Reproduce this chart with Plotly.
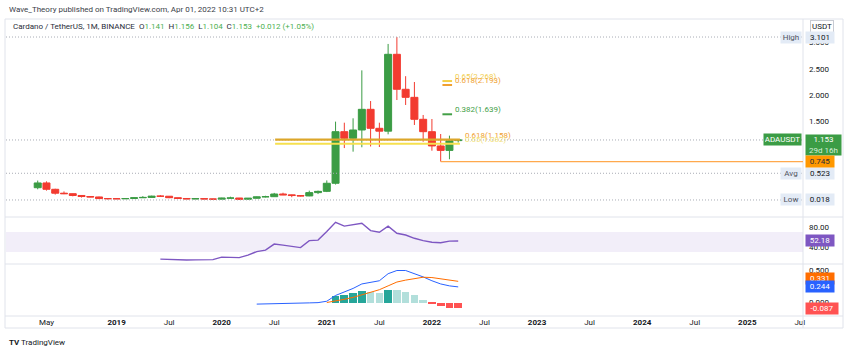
import plotly.graph_objects as go

# ---------------- data ----------------
tick_idx = [1, 9, 15, 21, 27, 33, 39, 45, 51, 57, 63, 69, 75, 81, 87]
tick_text = ["May", "<b>2019</b>", "Jul", "<b>2020</b>", "Jul", "<b>2021</b>", "Jul",
             "<b>2022</b>", "Jul", "<b>2023</b>", "Jul", "<b>2024</b>", "Jul", "<b>2025</b>", "Jul"]

# monthly candles, index 0 = Apr 2018 ... 48 = Apr 2022
opens = [0.250, 0.340, 0.220, 0.146, 0.137, 0.103, 0.083, 0.075, 0.044, 0.042, 0.040, 0.045,
         0.060, 0.066, 0.090, 0.089, 0.061, 0.046, 0.038, 0.042, 0.037, 0.033, 0.052, 0.055,
         0.031, 0.050, 0.077, 0.080, 0.131, 0.115, 0.102, 0.094, 0.157, 0.181, 0.334, 1.310,
         1.185, 1.342, 1.733, 1.374, 1.320, 2.774, 2.112, 1.960, 1.544, 1.310, 1.040, 0.956, 1.141]
closes = [0.340, 0.220, 0.146, 0.137, 0.103, 0.083, 0.075, 0.044, 0.042, 0.040, 0.045, 0.060,
          0.066, 0.090, 0.089, 0.061, 0.046, 0.038, 0.042, 0.037, 0.033, 0.052, 0.055, 0.031,
          0.050, 0.077, 0.080, 0.131, 0.115, 0.102, 0.094, 0.157, 0.181, 0.334, 1.310, 1.185,
          1.342, 1.733, 1.374, 1.320, 2.774, 2.112, 1.960, 1.544, 1.310, 1.040, 0.956, 1.141, 1.153]
highs = [0.385, 0.370, 0.230, 0.180, 0.140, 0.105, 0.088, 0.081, 0.050, 0.051, 0.050, 0.065,
         0.091, 0.099, 0.110, 0.092, 0.062, 0.052, 0.047, 0.050, 0.040, 0.060, 0.080, 0.057,
         0.055, 0.083, 0.098, 0.152, 0.155, 0.120, 0.110, 0.194, 0.195, 0.388, 1.500, 1.480,
         1.563, 2.470, 1.890, 1.480, 2.970, 3.101, 2.360, 2.250, 1.626, 1.550, 1.266, 1.235, 1.156]
lows = [0.220, 0.195, 0.120, 0.128, 0.087, 0.064, 0.071, 0.035, 0.027, 0.037, 0.036, 0.044,
        0.058, 0.058, 0.078, 0.052, 0.038, 0.034, 0.035, 0.033, 0.031, 0.032, 0.049, 0.018,
        0.030, 0.045, 0.066, 0.076, 0.110, 0.070, 0.086, 0.089, 0.130, 0.167, 0.310, 1.000,
        0.932, 1.015, 1.030, 1.020, 1.260, 1.909, 1.815, 1.437, 1.120, 0.950, 0.745, 0.788, 1.104]

rsi_start = 14
rsi = [16, 15, 14, 14.3, 14.5, 14.7, 15, 20, 19.5, 19, 24, 31, 34, 46, 44, 41, 39, 53, 54, 71,
       89.6, 82, 84.5, 87.6, 73, 69.6, 82, 67.6, 64.2, 57.6, 52.8, 49.6, 48.8, 52, 52.18]

macd_start = 25
macd = [-0.025, -0.02, -0.018, -0.015, -0.012, -0.01, -0.006, -0.002, 0.02, 0.11, 0.16, 0.22,
        0.29, 0.32, 0.34, 0.45, 0.50, 0.50, 0.455, 0.40, 0.34, 0.29, 0.26, 0.244]
signal_start = 33
signal = [0.0, 0.02, 0.05, 0.08, 0.12, 0.16, 0.20, 0.26, 0.32, 0.35, 0.375, 0.395, 0.39, 0.37,
          0.35, 0.331]
hist_start = 34
hist = [0.099, 0.125, 0.15, 0.177, 0.167, 0.146, 0.203, 0.188, 0.161, 0.115, 0.047, -0.02,
        -0.057, -0.083, -0.087]

# stat lines on price pane
stat_names = ["High", "Avg", "Low"]
stat_values = [3.101, 0.523, 0.018]
last_price = 1.153
support_level = 0.745
support_start = 46

# fib levels
fib_long_labels = ["0.618(1.158)", "0.65(1.082)"]
fib_long_values = [1.158, 1.082]
fib_long_span = [27.1, 48.2]
fib_short_labels = ["0.65(2.268)", "0.618(2.193)", "0.382(1.639)"]
fib_short_values = [2.268, 2.193, 1.639]
fib_short_span = [46.2, 47.3]

price_ticks = [1.5, 2.0, 2.5, 3.0]
rsi_ticks = [40, 80]
macd_ticks = [0.0, 0.5]

# ---------------- styling ----------------
GREEN = "#3b9c45"
RED = "#f23b30"
L, R, T, B = 6, 803, 20, 316


def px_x(p):
    return (p - L) / (R - L)


def px_y(p):
    return (B - p) / (B - T)


FONT = "Roboto, Arial, sans-serif"

x = list(range(len(opens)))
fig = go.Figure()
fig.add_trace(go.Candlestick(
    x=x, open=opens, high=highs, low=lows, close=closes,
    increasing=dict(line=dict(color=GREEN, width=1), fillcolor=GREEN),
    decreasing=dict(line=dict(color=RED, width=1), fillcolor=RED),
    whiskerwidth=0, xaxis="x", yaxis="y", hoverinfo="skip", showlegend=False))

fig.add_trace(go.Scatter(x=list(range(rsi_start, rsi_start + len(rsi))), y=rsi,
                         mode="lines", line=dict(color="#7e57c2", width=1.4),
                         xaxis="x", yaxis="y2", hoverinfo="skip"))

hist_colors = []
for i, v in enumerate(hist):
    prev = hist[i - 1] if i > 0 else 0
    if v >= 0:
        hist_colors.append("#26a69a" if v >= prev else "#b2dfdb")
    else:
        hist_colors.append("#ff5252" if v <= prev else "#ffcdd2")
fig.add_trace(go.Bar(x=list(range(hist_start, hist_start + len(hist))), y=hist,
                     marker=dict(color=hist_colors, line=dict(width=0)), width=0.88,
                     xaxis="x", yaxis="y3", hoverinfo="skip"))
fig.add_trace(go.Scatter(x=list(range(macd_start, macd_start + len(macd))), y=macd,
                         mode="lines", line=dict(color="#2962ff", width=1),
                         xaxis="x", yaxis="y3", hoverinfo="skip"))
fig.add_trace(go.Scatter(x=list(range(signal_start, signal_start + len(signal))), y=signal,
                         mode="lines", line=dict(color="#ff6d00", width=1),
                         xaxis="x", yaxis="y3", hoverinfo="skip"))

shapes = []
BORDER = "#e0e3eb"
shapes.append(dict(type="rect", xref="paper", yref="paper", x0=px_x(5), x1=px_x(843),
                   y0=px_y(328), y1=px_y(19), line=dict(color=BORDER, width=1)))
for yy in [217, 264, 316]:
    shapes.append(dict(type="line", xref="paper", yref="paper", x0=px_x(5), x1=px_x(843),
                       y0=px_y(yy), y1=px_y(yy), line=dict(color=BORDER, width=1)))
shapes.append(dict(type="line", xref="paper", yref="paper", x0=1, x1=1,
                   y0=px_y(328), y1=px_y(19), line=dict(color=BORDER, width=1)))
shapes.append(dict(type="rect", xref="paper", yref="y2", x0=0, x1=1, y0=30, y1=70,
                   fillcolor="rgba(126,87,194,0.10)", line=dict(width=0), layer="below"))
for v in stat_values + [last_price]:
    shapes.append(dict(type="line", xref="paper", yref="y", x0=0, x1=1, y0=v, y1=v,
                       line=dict(color="#a9acb5", width=1, dash="1px,2px")))
shapes.append(dict(type="line", xref="x", yref="y", x0=support_start, x1=87.36,
                   y0=support_level, y1=support_level, line=dict(color="#ffa94d", width=1.2)))
long_colors = ["#dca62a", "#f6e04e"]
for v, c in zip(fib_long_values, long_colors):
    shapes.append(dict(type="line", xref="x", yref="y", x0=fib_long_span[0], x1=fib_long_span[1],
                       y0=v, y1=v, line=dict(color=c, width=2.2)))
short_colors = ["#f4cf45", "#f0a030", "#43a047"]
for v, c in zip(fib_short_values, short_colors):
    shapes.append(dict(type="line", xref="x", yref="y", x0=fib_short_span[0], x1=fib_short_span[1],
                       y0=v, y1=v, line=dict(color=c, width=2)))

ann = []


def txt(text, x, y, xref="paper", yref="paper", xanchor="left", yanchor="middle",
        color="#131722", size=8, **kw):
    d = dict(text=text, x=x, y=y, xref=xref, yref=yref, xanchor=xanchor, yanchor=yanchor,
             showarrow=False, font=dict(family=FONT, size=size, color=color))
    d.update(kw)
    ann.append(d)


txt("Wave_Theory published on TradingView.com, Apr 01, 2022 10:31 UTC+2", px_x(7), px_y(9),
    color="#3a3e48", size=8)
g = "#4caf50"
legend = ("Cardano / TetherUS, 1M, BINANCE  O<span style='color:%s'>1.141</span>  "
          "H<span style='color:%s'>1.156</span>  L<span style='color:%s'>1.104</span>  "
          "C<span style='color:%s'>1.153</span>  <span style='color:%s'>+0.012 (+1.05%%)</span>"
          ) % (g, g, g, g, g)
txt(legend, px_x(11), px_y(26), color="#2a2e39", size=8)
txt("<b>TV</b> TradingView", px_x(7), px_y(342), color="#131722", size=8)

LIGHT = "#e3ebf6"
txt("USDT", px_x(822.5), px_y(26), xanchor="center", bgcolor="white", bordercolor="#c8cbd3",
    borderwidth=1, borderpad=1, size=8)
for name, v in zip(stat_names, stat_values):
    txt(name, px_x(802), v, yref="y", xanchor="right", bgcolor=LIGHT, color="#50535e",
        width=18, height=9, borderpad=1)
    txt("%.3f" % v, px_x(805), v, yref="y", bgcolor=LIGHT, color="#131722", width=26, height=9,
        borderpad=1)
txt("ADAUSDT", px_x(802), last_price, yref="y", xanchor="right", bgcolor=GREEN, color="white",
    width=35, height=9, borderpad=1)
txt("1.153<br><span style='color:#d7f0d9'>29d 16h</span>", px_x(805), last_price, yref="y",
    yanchor="top", yshift=5.5, bgcolor=GREEN, color="white", width=33, height=18, borderpad=1)
txt("%.3f" % support_level, px_x(805), support_level, yref="y", bgcolor="#ff9800",
    color="#2a2e39", width=26, height=9, borderpad=1)
txt("52.18", px_x(805), rsi[-1], yref="y2", bgcolor="#7e57c2", color="white", width=26,
    height=9, borderpad=1)
txt("%.3f" % signal[-1], px_x(805), signal[-1], yref="y3", yshift=3, bgcolor="#ff6d00",
    color="white", width=26, height=9, borderpad=1)
txt("%.3f" % macd[-1], px_x(805), macd[-1], yref="y3", bgcolor="#2962ff", color="white",
    width=26, height=9, borderpad=1)
txt("%.3f" % hist[-1], px_x(805), hist[-1], yref="y3", bgcolor="#ff5252", color="white",
    width=30, height=9, borderpad=1)

for lab, v, c in zip(fib_short_labels, fib_short_values, ["#f2cf52", "#f0a030", "#43a047"]):
    txt(lab, 47.44, v, xref="x", yref="y", color=c, yshift=5, size=8)
for lab, v, c in zip(fib_long_labels, fib_long_values, ["#f0a030", "#f3e27a"]):
    txt(lab, 48.5, v, xref="x", yref="y", color=c, yshift=4.5, size=8)

axis_font = dict(family=FONT, size=8, color="#131722")
fig.update_layout(
    width=850, height=352, margin=dict(l=L, r=850 - R, t=T, b=352 - B, pad=0),
    paper_bgcolor="white", plot_bgcolor="white", showlegend=False,
    boxgap=0.2, boxgroupgap=0, bargap=0,
    font=dict(family=FONT, size=8, color="#131722"),
    xaxis=dict(range=[-3.62, 87.36], anchor="y3", tickvals=tick_idx, ticktext=tick_text,
               showgrid=False, zeroline=False, showline=False, ticks="",
               rangeslider=dict(visible=False), tickfont=axis_font, fixedrange=True),
    yaxis=dict(domain=[0.3345, 1], range=[-0.304, 3.423], side="right", anchor="x",
               tickvals=price_ticks, ticktext=["%.3f" % v for v in price_ticks],
               showgrid=False, zeroline=False, showline=False, ticks="", tickfont=axis_font,
               ticklabelstandoff=5, fixedrange=True),
    yaxis2=dict(domain=[0.1757, 0.3345], range=[6.2, 100.2], side="right", anchor="x",
                tickvals=rsi_ticks, ticktext=["%.2f" % v for v in rsi_ticks], showgrid=False,
                zeroline=False, showline=False, ticks="", tickfont=axis_font,
                ticklabelstandoff=5, fixedrange=True),
    yaxis3=dict(domain=[0, 0.1757], range=[-0.211, 0.602], side="right", anchor="x",
                tickvals=macd_ticks, ticktext=["%.3f" % v for v in macd_ticks], showgrid=False,
                zeroline=False, showline=False, ticks="", tickfont=axis_font,
                ticklabelstandoff=5, fixedrange=True),
    shapes=shapes, annotations=ann,
)

fig.write_html("out.html", config={"displayModeBar": False})
